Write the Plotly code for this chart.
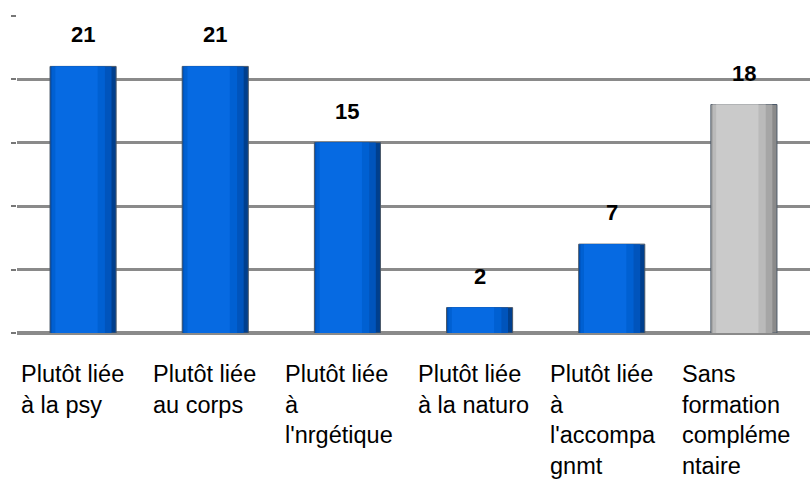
import plotly.graph_objects as go

categories = [
    "Plutôt liée<br>à la psy",
    "Plutôt liée<br>au corps",
    "Plutôt liée<br>à<br>l'nrgétique",
    "Plutôt liée<br>à la naturo",
    "Plutôt liée<br>à<br>l'accompa<br>gnmt",
    "Sans<br>formation<br>compléme<br>ntaire",
]
values = [21, 21, 15, 2, 7, 18]
is_blue = [True, True, True, True, True, False]

# cylinder-ish shading, outer layer first
BLUE = ["#003f8e", "#0054bc", "#0060d2", "#066ae2"]
GREY = ["#8a8a8a", "#a6a6a6", "#bababa", "#cacaca"]
LAYERS = [(0.50, -0.25), (0.46, -0.245), (0.40, -0.235), (0.32, -0.21)]

FONT = "Liberation Sans, Arial, sans-serif"

fig = go.Figure()

for i, (w, off) in enumerate(LAYERS):
    colors = [(BLUE if b else GREY)[i] for b in is_blue]
    fig.add_trace(go.Bar(
        x=categories,
        y=values,
        width=w,
        offset=off,
        marker=dict(
            color=colors,
            line=dict(color="#4b5868" if i == 0 else "rgba(0,0,0,0)", width=1),
        ),
        hoverinfo="skip" if i else "x+y",
        showlegend=False,
    ))

# value labels above bars
for cat, v in zip(categories, values):
    fig.add_annotation(
        x=cat, y=v, xref="x", yref="y",
        text=f"<b>{v}</b>",
        showarrow=False,
        yanchor="bottom",
        yshift=17,
        font=dict(family=FONT, size=22, color="#000000"),
    )

# left-aligned category labels under the axis
for cat in categories:
    fig.add_annotation(
        x=cat, y=0, xref="x", yref="y",
        text=cat,
        showarrow=False,
        xanchor="left",
        yanchor="top",
        align="left",
        xshift=-64,
        yshift=-26,
        font=dict(family=FONT, size=23.5, color="#000000"),
    )

fig.update_layout(
    width=810,
    height=481,
    margin=dict(l=17, r=0, t=15, b=148),
    paper_bgcolor="#ffffff",
    plot_bgcolor="#ffffff",
    barmode="overlay",
)
fig.update_xaxes(
    showticklabels=False,
    showgrid=False,
    showline=False,
    ticks="",
)
fig.update_yaxes(
    range=[0, 25.05],
    dtick=5,
    automargin=False,
    showticklabels=False,
    showgrid=True,
    gridcolor="#8a8a8a",
    gridwidth=3,
    zeroline=True,
    zerolinecolor="#8a8a8a",
    zerolinewidth=4,
    ticks="outside",
    ticklen=5,
    tickcolor="#777777",
    tickwidth=2,
)

fig.write_html(
    "out.html",
    config={"displayModeBar": False},
    post_script="document.body.style.margin='0';",
)
